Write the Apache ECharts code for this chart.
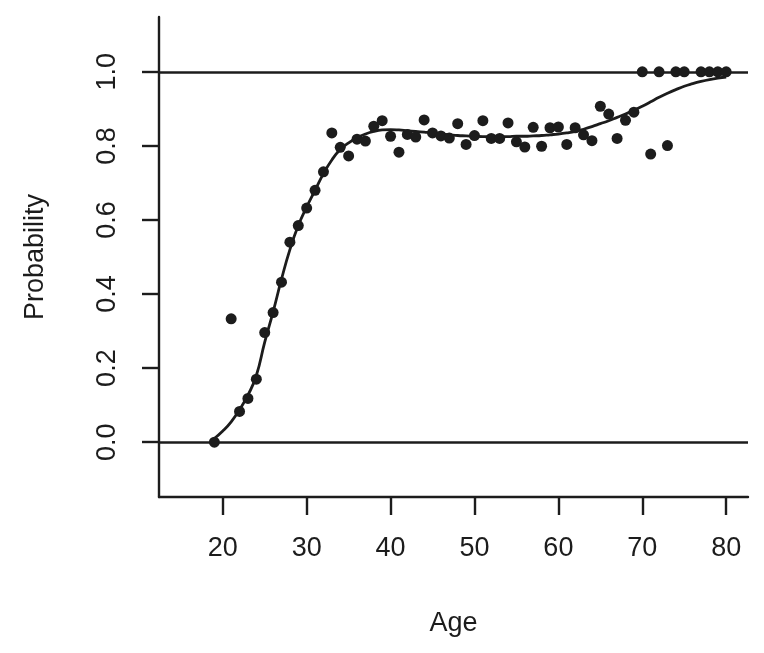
<!DOCTYPE html>
<html>
<head>
<meta charset="utf-8">
<script src="https://cdn.jsdelivr.net/npm/echarts@6/dist/echarts.min.js"></script>
<style>
html,body{margin:0;padding:0;background:#fff;}
#chart{width:764px;height:653px;}
</style>
</head>
<body>
<div id="chart"></div>
<script>
// Observed proportions
var pointAges = [19,21,22,23,24,25,26,27,28,29,30,31,32,33,34,35,36,37,38,39,40,41,42,43,44,45,46,47,48,49,50,51,52,53,54,55,56,57,58,59,60,61,62,63,64,65,66,67,68,69,70,71,72,73,74,75,77,78,79,80];
var pointProbs = [0.0,0.333,0.083,0.118,0.17,0.296,0.35,0.432,0.54,0.585,0.632,0.68,0.73,0.835,0.796,0.773,0.818,0.813,0.853,0.868,0.826,0.783,0.831,0.824,0.87,0.835,0.827,0.821,0.86,0.804,0.828,0.868,0.82,0.82,0.862,0.811,0.797,0.85,0.799,0.849,0.851,0.804,0.849,0.83,0.814,0.907,0.886,0.82,0.869,0.891,1.0,0.778,1.0,0.801,1.0,1.0,1.0,1.0,1.0,1.0];

// Smoothed curve
var curveAges = [19,20,21,22,23,24,25,26,27,28,29,30,31,32,33,34,35,36,37,38,39,40,41,42,43,44,45,46,47,48,49,50,51,52,53,54,55,56,57,58,59,60,61,62,63,64,65,66,67,68,69,70,71,72,73,74,75,76,77,78,79,80];
var curveProbs = [0.01,0.03,0.055,0.088,0.127,0.18,0.27,0.352,0.44,0.52,0.585,0.635,0.68,0.725,0.762,0.79,0.808,0.822,0.832,0.839,0.843,0.844,0.843,0.841,0.839,0.837,0.835,0.832,0.83,0.828,0.827,0.826,0.825,0.825,0.825,0.825,0.826,0.826,0.827,0.828,0.83,0.832,0.835,0.839,0.845,0.852,0.86,0.868,0.877,0.886,0.896,0.907,0.919,0.931,0.942,0.952,0.961,0.968,0.974,0.979,0.983,0.986];

// Axis ticks and reference lines
var xTicks = [20,30,40,50,60,70,80];
var yTicks = [0.0,0.2,0.4,0.6,0.8,1.0];
var refLines = [0,1];

var ink = '#1c1c1c';
var font = 'Liberation Sans, Arial, Helvetica, sans-serif';

var chart = echarts.init(document.getElementById('chart'), null, {renderer:'canvas'});
chart.setOption({
  animation: false,
  backgroundColor: '#ffffff',
  grid: {left: 159, right: 16, top: 17, bottom: 156, containLabel: false},
  xAxis: {
    type: 'value', min: 12.4, max: 82.6,
    name: 'Age', nameLocation: 'middle', nameGap: 113,
    nameTextStyle: {color: ink, fontSize: 27, fontFamily: font},
    axisLine: {show: true, onZero: false, lineStyle: {color: ink, width: 2.4}},
    axisTick: {show: true, length: 18, lineStyle: {color: ink, width: 2.4}, customValues: xTicks},
    axisLabel: {show: true, color: ink, fontSize: 27, fontFamily: font, margin: 38, customValues: xTicks},
    splitLine: {show: false}
  },
  yAxis: {
    type: 'value', min: -0.148, max: 1.148,
    name: 'Probability', nameLocation: 'middle', nameGap: 110, nameRotate: 90,
    nameTextStyle: {color: ink, fontSize: 27, fontFamily: font},
    axisLine: {show: true, onZero: false, lineStyle: {color: ink, width: 2.4}},
    axisTick: {show: true, length: 17, lineStyle: {color: ink, width: 2.4}, customValues: yTicks},
    axisLabel: {show: true, color: ink, fontSize: 27, fontFamily: font, margin: 38, rotate: 90,
      customValues: yTicks, formatter: function(v){ return v.toFixed(1); }},
    splitLine: {show: false}
  },
  series: [
    {
      type: 'line',
      data: curveAges.map(function(a,i){ return [a, curveProbs[i]]; }),
      smooth: true,
      showSymbol: false,
      lineStyle: {color: ink, width: 2.8},
      z: 2,
      markLine: {
        silent: true,
        symbol: ['none','none'],
        label: {show: false},
        lineStyle: {color: ink, width: 2.6, type: 'solid'},
        emphasis: {disabled: true},
        data: refLines.map(function(v){ return {yAxis: v}; })
      }
    },
    {
      type: 'scatter',
      data: pointAges.map(function(a,i){ return [a, pointProbs[i]]; }),
      symbol: 'circle',
      symbolSize: 11,
      itemStyle: {color: ink, opacity: 1},
      z: 3
    }
  ]
});
</script>
</body>
</html>
